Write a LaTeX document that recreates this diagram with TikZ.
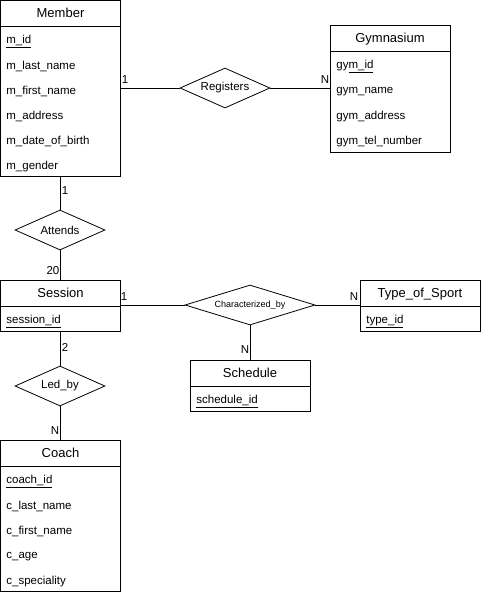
\documentclass[tikz,border=0pt]{standalone}
\usepackage{fontspec}
\setmainfont{Liberation Sans}
\usetikzlibrary{positioning,shapes.geometric}
\newcommand{\pkey}[1]{\underline{#1}}
\tikzset{
  ent/.style={draw, rectangle, minimum width=120pt, minimum height=26pt, inner sep=0pt, text height=10pt, text depth=1pt, font=\fontsize{13}{15}\selectfont},
  entbody/.style={draw, rectangle, minimum width=120pt, inner sep=0pt},
  attr/.style={anchor=west, inner sep=0pt, yshift=-1.5pt, font=\fontsize{11.5}{14}\selectfont},
  rel/.style={draw, diamond, aspect=2.25, inner sep=0pt, minimum width=90pt, minimum height=40pt, font=\fontsize{11.5}{14}\selectfont},
  card/.style={inner sep=0pt, font=\fontsize{11.5}{14}\selectfont},
}

\begin{document}
\begin{tikzpicture}[x=1pt, y=-1pt, line width=0.8pt]
        \useasboundingbox (0,0) rectangle (481,595);
        %entities
        \node[ent] (member) at (60.5,13) {Member};
        \node[entbody, minimum height=150pt, below=0pt of member] (memberbody) {};
        \node[attr] (mid) at (6,40) {\pkey{m\_id}};
        \node[attr] (mlast) at (6,65) {m\_last\_name};
        \node[attr] (mfirst) at (6,90) {m\_first\_name};
        \node[attr] (maddr) at (6,115) {m\_address};
        \node[attr] (mbirth) at (6,140) {m\_date\_of\_birth};
        \node[attr] (mgender) at (6,165) {m\_gender};

        \node[ent] (gym) at (390,38) {Gymnasium};
        \node[entbody, minimum height=101pt, below=0pt of gym] (gymbody) {};
        \node[attr] (gid) at (336,65) {gy\pkey{m\_id}};
        \node[attr] (gname) at (336,90) {gym\_name};
        \node[attr] (gaddr) at (336,115) {gym\_address};
        \node[attr] (gtel) at (336,140) {gym\_tel\_number};

        \node[ent] (session) at (60.5,293) {Session};
        \node[entbody, minimum height=25pt, below=0pt of session] (sessionbody) {};
        \node[attr] (sid) at (6,320) {\pkey{session\_id}};

        \node[ent] (sport) at (420,293) {Type\_of\_Sport};
        \node[entbody, minimum height=25pt, below=0pt of sport] (sportbody) {};
        \node[attr] (tid) at (366,320) {\pkey{type\_id}};

        \node[ent] (sched) at (250,373) {Schedule};
        \node[entbody, minimum height=25pt, below=0pt of sched] (schedbody) {};
        \node[attr] (schid) at (196,400) {\pkey{schedule\_id}};

        \node[ent] (coach) at (60.5,453) {Coach};
        \node[entbody, minimum height=125pt, below=0pt of coach] (coachbody) {};
        \node[attr] (cid) at (6,480) {\pkey{coach\_id}};
        \node[attr] (clast) at (6,505) {c\_last\_name};
        \node[attr] (cfirst) at (6,530) {c\_first\_name};
        \node[attr] (cage) at (6,555) {c\_age};
        \node[attr] (cspec) at (6,580) {c\_speciality};
        %relationships
        \node[rel] (reg) at (225,88) {Registers};
        \node[rel] (att) at (60,230) {Attends};
        \node[rel, minimum width=130pt, font=\fontsize{9}{11}\selectfont] (char) at (250,305) {Characterized\_by};
        \node[rel] (led) at (60,386) {Led\_by};
        %edges
        \path [draw] (reg.west) -- (reg.west -| memberbody.east);
        \path [draw] (reg.east) -- (reg.east -| gymbody.west);
        \path [draw] (memberbody.south -| att.north) -- (att.north);
        \path [draw] (att.south) -- (att.south |- session.north);
        \path [draw] (char.west) -- (char.west -| session.east);
        \path [draw] (char.east) -- (char.east -| sport.west);
        \path [draw] (char.south) -- (sched.north);
        \path [draw] (sessionbody.south -| led.north) -- (led.north);
        \path [draw] (led.south) -- (led.south |- coach.north);
        %cardinalities
        \node[card] (c1) at (125,80) {1};
        \node[card] (c2) at (325,80) {N};
        \node[card] (c3) at (65,191) {1};
        \node[card] (c4) at (53,271) {20};
        \node[card] (c5) at (124,297) {1};
        \node[card] (c6) at (354,297) {N};
        \node[card] (c7) at (245,350) {N};
        \node[card] (c8) at (65,347) {2};
        \node[card] (c9) at (55,431) {N};
      \end{tikzpicture}
\end{document}
